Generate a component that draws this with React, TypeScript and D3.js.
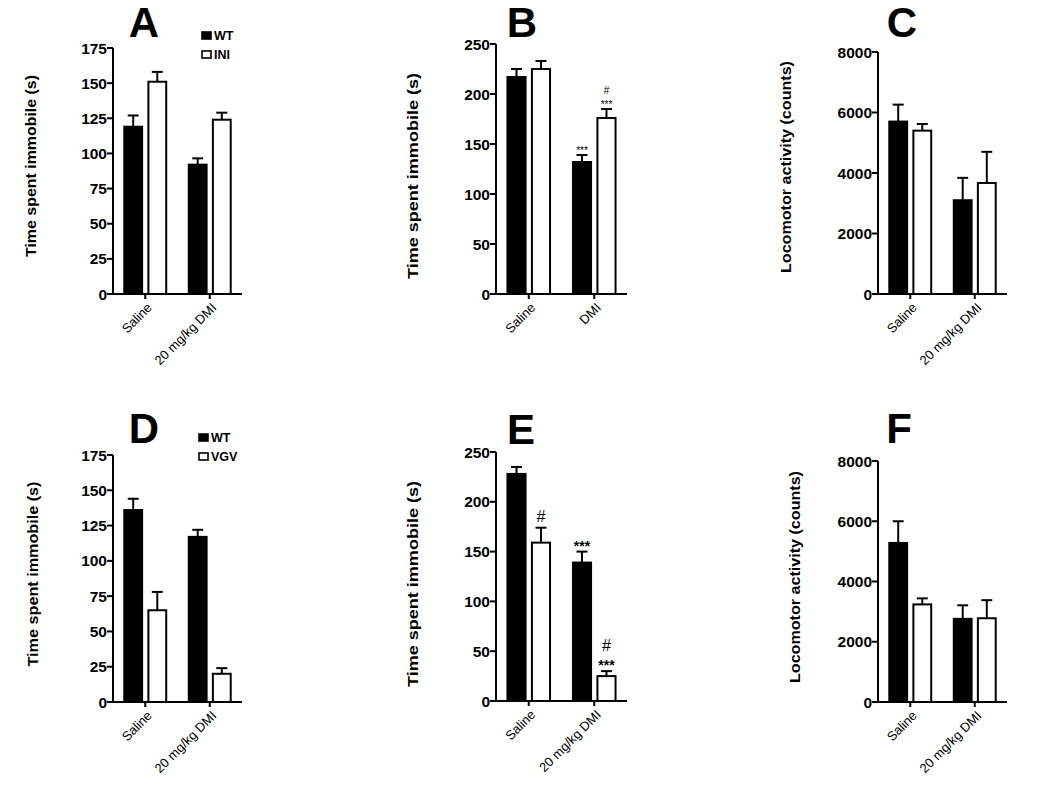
import React from "react";
import * as d3 from "d3";

// ---------- data ----------
const catsDose = ["Saline", "20 mg/kg DMI"];
const catsDMI = ["Saline", "DMI"];
const seriesTop = ["WT", "INI"];
const seriesBottom = ["WT", "VGV"];

const ticksImmobile175 = [0, 25, 50, 75, 100, 125, 150, 175];
const ticksImmobile250 = [0, 50, 100, 150, 200, 250];
const ticksLoco = [0, 2000, 4000, 6000, 8000];

// Panel A
const aWT = [119, 92];
const aWTsem = [8, 4.5];
const aINI = [151, 124];
const aINIsem = [7, 5];
// Panel B
const bWT = [217, 132];
const bWTsem = [8, 7];
const bINI = [225, 176];
const bINIsem = [8, 9];
const bNotes = [["", ""], ["***", "***|#"]];
// Panel C
const cWT = [5700, 3100];
const cWTsem = [560, 740];
const cINI = [5400, 3670];
const cINIsem = [220, 1030];
// Panel D
const dWT = [136, 117];
const dWTsem = [8, 5];
const dVGV = [65, 20];
const dVGVsem = [13, 4];
// Panel E
const eWT = [228, 139];
const eWTsem = [7, 11];
const eVGV = [159, 25];
const eVGVsem = [15, 5];
const eNotes = [["", "#"], ["***", "***|#"]];
// Panel F
const fWT = [5280, 2760];
const fWTsem = [720, 450];
const fVGV = [3240, 2780];
const fVGVsem = [200, 600];

const yLabImm = "Time spent immobile (s)";
const yLabLoco = "Locomotor activity (counts)";

const FONT = "'Liberation Sans', Arial, Helvetica, sans-serif";

type Layout = {
  x0: number; x1: number; yTop: number; yBot: number;
  title: string; tx: number; ty: number;
  lx: number; ly: number; llen: number;
  legend?: { x: number; y: number };
  noteSize?: number;
};

type PanelProps = {
  layout: Layout;
  cats: string[];
  series: string[];
  means: number[][];
  sems: number[][];
  ticks: number[];
  yLabel: string;
  notes?: string[][];
};

function Panel({ layout, cats, series, means, sems, ticks, yLabel, notes }: PanelProps) {
  const L = layout;
  const yMax = ticks[ticks.length - 1];
  const y = d3.scaleLinear().domain([0, yMax]).range([L.yBot, L.yTop]);
  const x = d3.scaleBand<string>().domain(cats).range([L.x0, L.x1]).paddingInner(0.35).paddingOuter(0.175);
  const xs = d3.scaleBand<string>().domain(series).range([0, x.bandwidth()]).paddingInner(0.26);
  const bw = xs.bandwidth();
  const ns = L.noteSize ?? 14;
  const big = ns > 11;

  return (
    <g>
      <text x={L.tx} y={L.ty} textAnchor="middle" fontFamily={FONT} fontWeight="bold" fontSize={42}>{L.title}</text>
      <text
        transform={`translate(${L.lx},${L.ly}) rotate(-90)`}
        textAnchor="middle" dy="0.35em" fontFamily={FONT} fontWeight="bold" fontSize={14}
        textLength={L.llen} lengthAdjust="spacingAndGlyphs"
      >{yLabel}</text>
      {/* bars */}
      {cats.map((c, ci) => (
        <g key={c}>
          {series.map((s, si) => {
            const bx = (x(c) ?? 0) + (xs(s) ?? 0);
            const m = means[si][ci];
            const e = sems[si][ci];
            const cx = bx + bw / 2;
            const note = notes ? notes[ci][si] : "";
            const lines = note ? note.split("|") : [];
            return (
              <g key={s}>
                <line x1={cx} x2={cx} y1={y(m)} y2={y(m + e)} stroke="#000" strokeWidth={2} />
                <line x1={cx - 5.5} x2={cx + 5.5} y1={y(m + e)} y2={y(m + e)} stroke="#000" strokeWidth={2} />
                <rect x={bx} y={y(m)} width={bw} height={L.yBot - y(m)}
                  fill={si === 0 ? "#000" : "#fff"} stroke="#000" strokeWidth={2} />
                {lines.map((t, li) => (
                  <text key={li} x={cx} y={y(m + e) - (t === "#" ? (big ? 6 : 5) : 1) - li * ns}
                    textAnchor="middle" fontFamily={FONT} fontSize={t === "#" ? (big ? ns * 1.15 : ns) : ns}
                    fontWeight={big && t !== "#" ? "bold" : "normal"}>{t}</text>
                ))}
              </g>
            );
          })}
        </g>
      ))}
      {/* y axis */}
      <line x1={L.x0} x2={L.x0} y1={L.yTop} y2={L.yBot} stroke="#000" strokeWidth={2} />
      {ticks.map((t) => (
        <g key={t}>
          <line x1={L.x0 - 6} x2={L.x0} y1={y(t)} y2={y(t)} stroke="#000" strokeWidth={2} />
          <text x={L.x0 - 6} y={y(t)} dy="0.36em" textAnchor="end" fontFamily={FONT} fontWeight="bold" fontSize={15.5}>{t}</text>
        </g>
      ))}
      {/* x axis */}
      <line x1={L.x0 - 1} x2={L.x1} y1={L.yBot} y2={L.yBot} stroke="#000" strokeWidth={2} />
      {cats.map((c) => {
        const cx = (x(c) ?? 0) + x.bandwidth() / 2;
        return (
          <g key={c}>
            <line x1={cx} x2={cx} y1={L.yBot} y2={L.yBot + 5} stroke="#000" strokeWidth={2} />
            <text transform={`translate(${cx + 1},${L.yBot + 8}) rotate(-45)`} textAnchor="end" dy="0.7em"
              fontFamily={FONT} fontSize={13}>{c}</text>
          </g>
        );
      })}
      {L.legend && series.map((s, si) => (
        <g key={s} transform={`translate(${L.legend!.x},${L.legend!.y + si * 19})`}>
          <rect x={0} y={0} width={9} height={7} fill={si === 0 ? "#000" : "#fff"} stroke="#000" strokeWidth={1.6} />
          <text x={12} y={3.5} dy="0.36em" fontFamily={FONT} fontWeight="bold" fontSize={12.5}>{s}</text>
        </g>
      ))}
    </g>
  );
}

const layoutA: Layout = { x0: 113, x1: 242, yTop: 48, yBot: 294, title: "A", tx: 144, ty: 37, lx: 31, ly: 166, llen: 182, legend: { x: 202, y: 32 } };
const layoutB: Layout = { x0: 496, x1: 627, yTop: 44, yBot: 294, title: "B", tx: 522, ty: 37, lx: 413, ly: 176, llen: 206, noteSize: 10 };
const layoutC: Layout = { x0: 878, x1: 1007, yTop: 52, yBot: 294, title: "C", tx: 902, ty: 37, lx: 786, ly: 167, llen: 212 };
const layoutD: Layout = { x0: 113, x1: 242, yTop: 455, yBot: 702, title: "D", tx: 144, ty: 443, lx: 33, ly: 574, llen: 185, legend: { x: 199, y: 434 } };
const layoutE: Layout = { x0: 496, x1: 627, yTop: 452, yBot: 701, title: "E", tx: 521, ty: 444, lx: 413, ly: 584, llen: 206, noteSize: 14 };
const layoutF: Layout = { x0: 878, x1: 1007, yTop: 461, yBot: 702, title: "F", tx: 899, ty: 443, lx: 795, ly: 577, llen: 212 };

export default function App() {
  return (
    <svg width={1050} height={796} style={{ position: "absolute", left: 0, top: 0, background: "#fff" }}>
      <rect width={1050} height={796} fill="#fff" />
      <Panel layout={layoutA} cats={catsDose} series={seriesTop} means={[aWT, aINI]} sems={[aWTsem, aINIsem]} ticks={ticksImmobile175} yLabel={yLabImm} />
      <Panel layout={layoutB} cats={catsDMI} series={seriesTop} means={[bWT, bINI]} sems={[bWTsem, bINIsem]} ticks={ticksImmobile250} yLabel={yLabImm} notes={bNotes} />
      <Panel layout={layoutC} cats={catsDose} series={seriesTop} means={[cWT, cINI]} sems={[cWTsem, cINIsem]} ticks={ticksLoco} yLabel={yLabLoco} />
      <Panel layout={layoutD} cats={catsDose} series={seriesBottom} means={[dWT, dVGV]} sems={[dWTsem, dVGVsem]} ticks={ticksImmobile175} yLabel={yLabImm} />
      <Panel layout={layoutE} cats={catsDose} series={seriesBottom} means={[eWT, eVGV]} sems={[eWTsem, eVGVsem]} ticks={ticksImmobile250} yLabel={yLabImm} notes={eNotes} />
      <Panel layout={layoutF} cats={catsDose} series={seriesBottom} means={[fWT, fVGV]} sems={[fWTsem, fVGVsem]} ticks={ticksLoco} yLabel={yLabLoco} />
    </svg>
  );
}
